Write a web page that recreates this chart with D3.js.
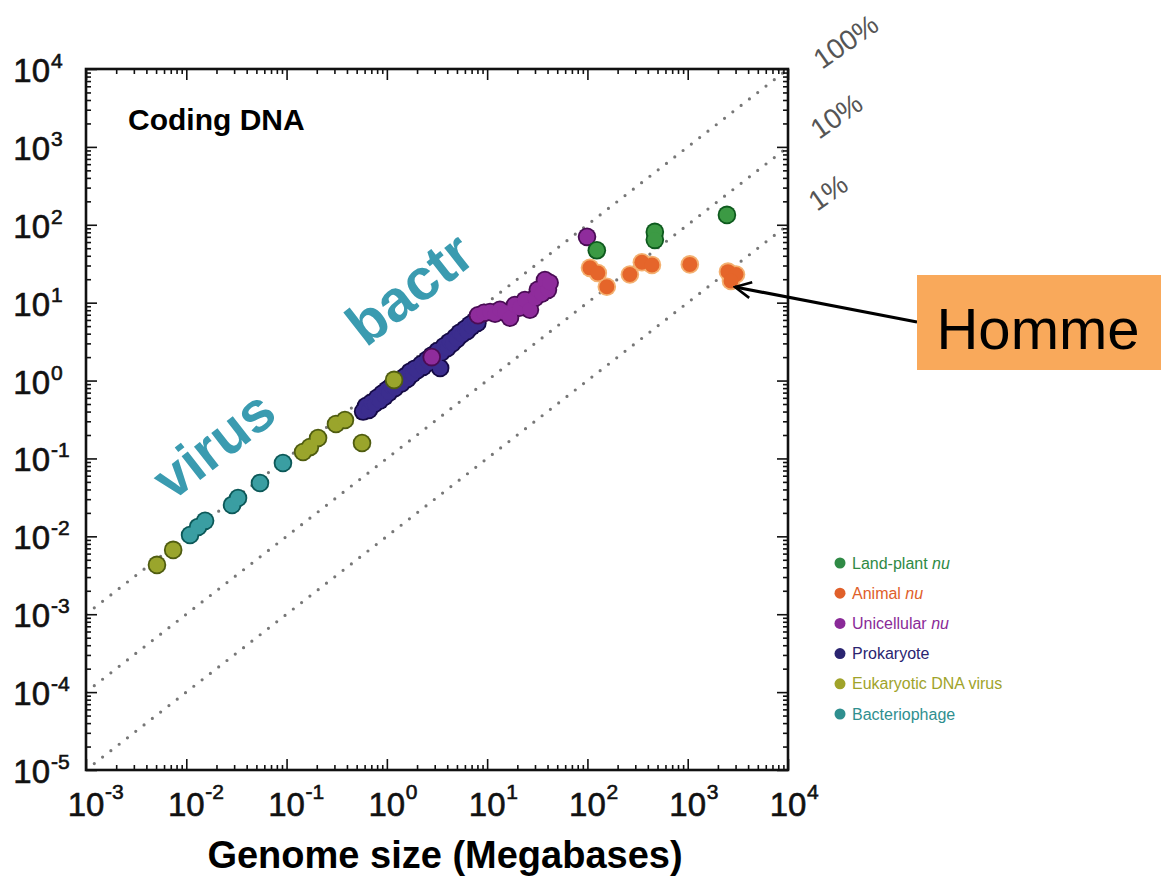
<!DOCTYPE html>
<html>
<head>
<meta charset="utf-8">
<script src="https://cdn.jsdelivr.net/npm/d3@7"></script>
<style>
  body { margin: 0; background: #fff; }
  text { font-family: "Liberation Sans", Arial, sans-serif; }
</style>
</head>
<body>
<svg width="1161" height="887"></svg>
<script>
// Genome size (Mb) vs coding DNA (Mb)
const landPlant = [[124, 47], [470, 81], [470, 64], [2460, 134]];
const animal = [[106, 28], [127, 24], [156, 16], [265, 23], [349, 33], [440, 30.5],
  [1050, 31], [2520, 25], [3030, 23], [2700, 19]];
const unicellular = [[2.8, 2.0], [8.1, 6.9], [9.3, 7.4], [10.7, 7.6], [12, 7.2], [13.4, 8.1],
  [15, 7.5], [16.9, 6.4], [18.9, 9.3], [21, 8.6], [23.8, 10.8], [26.7, 8.1], [30, 11.5],
  [32, 14.6], [35, 13], [37.7, 19.5], [40.4, 14.6], [42, 18], [99, 70]];
const prokaryote = [[0.58, 0.40], [0.62, 0.47], [0.66, 0.42], [0.70, 0.52], [0.75, 0.50],
  [0.80, 0.60], [0.85, 0.55], [0.90, 0.68], [0.95, 0.62], [1.0, 0.76], [1.05, 0.70],
  [1.1, 0.84], [1.2, 0.80], [1.3, 0.98], [1.4, 0.92], [1.5, 1.12], [1.6, 1.05], [1.7, 1.30],
  [1.8, 1.22], [1.9, 1.42], [2.0, 1.35], [2.2, 1.62], [2.3, 1.50], [2.5, 1.85], [2.6, 1.70],
  [2.8, 2.10], [3.0, 1.95], [3.2, 2.40], [3.4, 1.45], [3.5, 2.30], [3.7, 2.75], [4.0, 2.60],
  [4.2, 3.15], [4.5, 3.00], [4.8, 3.60], [5.0, 3.40], [5.3, 4.10], [5.6, 3.90], [6.0, 4.60],
  [6.3, 4.30], [6.7, 5.20], [7.0, 4.90], [7.5, 5.80], [8.0, 5.50]];
const eukVirus = [[0.0051, 0.0043], [0.0074, 0.0067], [0.146, 0.121], [0.171, 0.14],
  [0.206, 0.183], [0.311, 0.277], [0.382, 0.312], [0.565, 0.158], [1.18, 1.02]];
const phage = [[0.0109, 0.0104], [0.0131, 0.0132], [0.0154, 0.0158], [0.0286, 0.0253],
  [0.0328, 0.0311], [0.0543, 0.0484], [0.092, 0.0875]];

const xExponents = [-3, -2, -1, 0, 1, 2, 3, 4];
const yExponents = [-5, -4, -3, -2, -1, 0, 1, 2, 3, 4];
const fractions = [1, 0.1, 0.01];
const fractionLabels = ['100%', '10%', '1%'];
const legendNames = ['Land-plant ', 'Animal ', 'Unicellular ', 'Prokaryote', 'Eukaryotic DNA virus', 'Bacteriophage'];
const legendItalic = ['nu', 'nu', 'nu', '', '', ''];

// drawing order: bottom first
const series = [
  { data: prokaryote, fill: '#3b2d8e', edge: '#150a45' },
  { data: unicellular, fill: '#8f2c9c', edge: '#4a0c55' },
  { data: phage, fill: '#3a9ea2', edge: '#0c5858' },
  { data: eukVirus, fill: '#9aa52c', edge: '#4f5c10' },
  { data: animal, fill: '#e5652a', edge: '#f4b070' },
  { data: landPlant, fill: '#3c9a44', edge: '#0e5a1e' }
];
const legendColors = ['#2f8a45', '#e0602a', '#8a2a98', '#2a2470', '#a0a32a', '#2f8f8f'];

const svg = d3.select('svg');

// plot box
const plotL = 86, plotR = 788, plotT = 69, plotB = 770;

const x = d3.scaleLog().domain([1e-3, 1e4]).range([plotL, plotR]);
const y = d3.scaleLog().domain([1e-5, 1e4]).range([plotB, plotT]);

const isMajor = v => Math.abs(Math.log10(v) - Math.round(Math.log10(v))) < 1e-6;
const xMinor = x.ticks().filter(v => !isMajor(v));
const yMinor = y.ticks().filter(v => !isMajor(v));
const xMajor = xExponents.map(e => Math.pow(10, e));
const yMajor = yExponents.map(e => Math.pow(10, e));

svg.append('clipPath').attr('id', 'plot')
  .append('rect')
    .attr('x', plotL).attr('y', plotT)
    .attr('width', plotR - plotL).attr('height', plotB - plotT);

// dotted reference lines (coding fraction of genome)
svg.append('g')
    .attr('clip-path', 'url(#plot)')
  .selectAll('line')
  .data(fractions)
  .join('line')
    .attr('x1', x(1e-3)).attr('y1', f => y(f * 1e-3))
    .attr('x2', x(1e4)).attr('y2', f => y(f * 1e4))
    .attr('stroke', '#777')
    .attr('stroke-width', 3.2)
    .attr('stroke-linecap', 'round')
    .attr('stroke-dasharray', '0,10.5');

// points: outline layer first, fill on top, so clusters merge into blobs
const r = 7.5;
const pts = svg.append('g').attr('clip-path', 'url(#plot)');
series.forEach(s => {
  pts.append('g').selectAll('circle')
    .data(s.data)
    .join('circle')
      .attr('cx', d => x(d[0])).attr('cy', d => y(d[1]))
      .attr('r', r + 1.8)
      .attr('fill', s.edge);
  pts.append('g').selectAll('circle')
    .data(s.data)
    .join('circle')
      .attr('cx', d => x(d[0])).attr('cy', d => y(d[1]))
      .attr('r', r)
      .attr('fill', s.fill);
});

// ticks on all four sides, pointing inward
const tickG = svg.append('g');
const noLabel = () => '';
[
  [d3.axisBottom(x), `translate(0,${plotB})`, xMajor, xMinor],
  [d3.axisTop(x), `translate(0,${plotT})`, xMajor, xMinor],
  [d3.axisLeft(y), `translate(${plotL},0)`, yMajor, yMinor],
  [d3.axisRight(y), `translate(${plotR},0)`, yMajor, yMinor]
].forEach(([axis, tr, major, minor]) => {
  tickG.append('g').attr('transform', tr)
    .call(axis.tickValues(major).tickSize(-11).tickFormat(noLabel))
    .call(g => g.select('.domain').remove());
  tickG.append('g').attr('transform', tr)
    .call(axis.tickValues(minor).tickSize(-5).tickFormat(noLabel))
    .call(g => g.select('.domain').remove());
});
tickG.selectAll('line').attr('stroke', '#111').attr('stroke-width', 1.6);

// frame
svg.append('rect')
  .attr('x', plotL).attr('y', plotT)
  .attr('width', plotR - plotL).attr('height', plotB - plotT)
  .attr('fill', 'none').attr('stroke', '#111').attr('stroke-width', 2.6);

// tick labels: 10 with superscript exponent
const xLab = svg.append('g')
    .attr('fill', '#111').attr('stroke', '#111').attr('stroke-width', 0.6)
  .selectAll('g')
  .data(xExponents)
  .join('g')
    .attr('transform', e => `translate(${x(Math.pow(10, e))},${plotB})`);
xLab.append('text')
    .attr('text-anchor', 'middle').attr('y', 46)
    .attr('font-size', 33)
    .text('10');
xLab.append('text')
    .attr('x', 19).attr('y', 29)
    .attr('font-size', 21)
    .text(e => e);

const yLab = svg.append('g')
    .attr('fill', '#111').attr('stroke', '#111').attr('stroke-width', 0.6)
  .selectAll('g')
  .data(yExponents)
  .join('g')
    .attr('transform', e => `translate(${plotL},${y(Math.pow(10, e))})`);
yLab.append('text')
    .attr('text-anchor', 'end').attr('x', -36).attr('y', 13)
    .attr('font-size', 33)
    .text('10');
yLab.append('text')
    .attr('x', -35).attr('y', -1)
    .attr('font-size', 21)
    .text(e => e);

// axis title
svg.append('text')
  .attr('x', 445).attr('y', 868)
  .attr('text-anchor', 'middle')
  .attr('font-size', 38).attr('font-weight', 'bold')
  .text('Genome size (Megabases)');

// panel title
svg.append('text')
  .attr('x', 128).attr('y', 130)
  .attr('font-size', 30).attr('font-weight', 'bold')
  .text('Coding DNA');

// percent labels beside the dotted lines
const pctPos = [[822, 70], [819, 140], [817, 212]];
svg.append('g').selectAll('text')
  .data(fractionLabels)
  .join('text')
    .attr('transform', (d, i) => `translate(${pctPos[i][0]},${pctPos[i][1]}) rotate(-35)`)
    .attr('font-size', 28).attr('fill', '#555')
    .text(d => d);

// legend
const legend = svg.append('g').attr('transform', 'translate(840,563)');
const li = legend.selectAll('g')
  .data(legendNames)
  .join('g')
    .attr('transform', (d, i) => `translate(0,${i * 30.2})`);
li.append('circle')
    .attr('r', 5.5)
    .attr('fill', (d, i) => legendColors[i]);
li.append('text')
    .attr('x', 12).attr('y', 5.5)
    .attr('font-size', 16)
    .attr('fill', (d, i) => legendColors[i])
    .text(d => d)
  .append('tspan')
    .attr('font-style', 'italic')
    .text((d, i) => legendItalic[i]);

// hand-written annotations
const note = '#3a9bb0';
svg.append('text')
  .attr('transform', 'translate(172,502) rotate(-38)')
  .attr('font-family', 'Lato, "Open Sans", sans-serif')
  .attr('font-weight', 'bold').attr('font-size', 57)
  .attr('fill', note)
  .text('virus');
svg.append('text')
  .attr('transform', 'translate(366,348) rotate(-38)')
  .attr('font-family', 'Lato, "Open Sans", sans-serif')
  .attr('font-weight', 'bold').attr('font-size', 58)
  .attr('fill', note)
  .text('bactr');

// "Homme" call-out with arrow
svg.append('defs').append('marker')
    .attr('id', 'arrow')
    .attr('viewBox', '0 0 12 12')
    .attr('refX', 11).attr('refY', 6)
    .attr('markerWidth', 6).attr('markerHeight', 6)
    .attr('markerUnits', 'strokeWidth')
    .attr('orient', 'auto')
  .append('path')
    .attr('d', 'M1,1 L11,6 L1,11')
    .attr('fill', 'none').attr('stroke', '#000').attr('stroke-width', 1.6);

svg.append('line')
  .attr('x1', 917).attr('y1', 322)
  .attr('x2', 735).attr('y2', 287)
  .attr('stroke', '#000').attr('stroke-width', 3.2)
  .attr('marker-end', 'url(#arrow)');

svg.append('rect')
  .attr('x', 917).attr('y', 275)
  .attr('width', 244).attr('height', 95)
  .attr('fill', '#f9a95b');
svg.append('text')
  .attr('x', 1038).attr('y', 349)
  .attr('text-anchor', 'middle')
  .attr('font-family', 'Lato, "Open Sans", sans-serif')
  .attr('font-size', 58)
  .text('Homme');
</script>
</body>
</html>
